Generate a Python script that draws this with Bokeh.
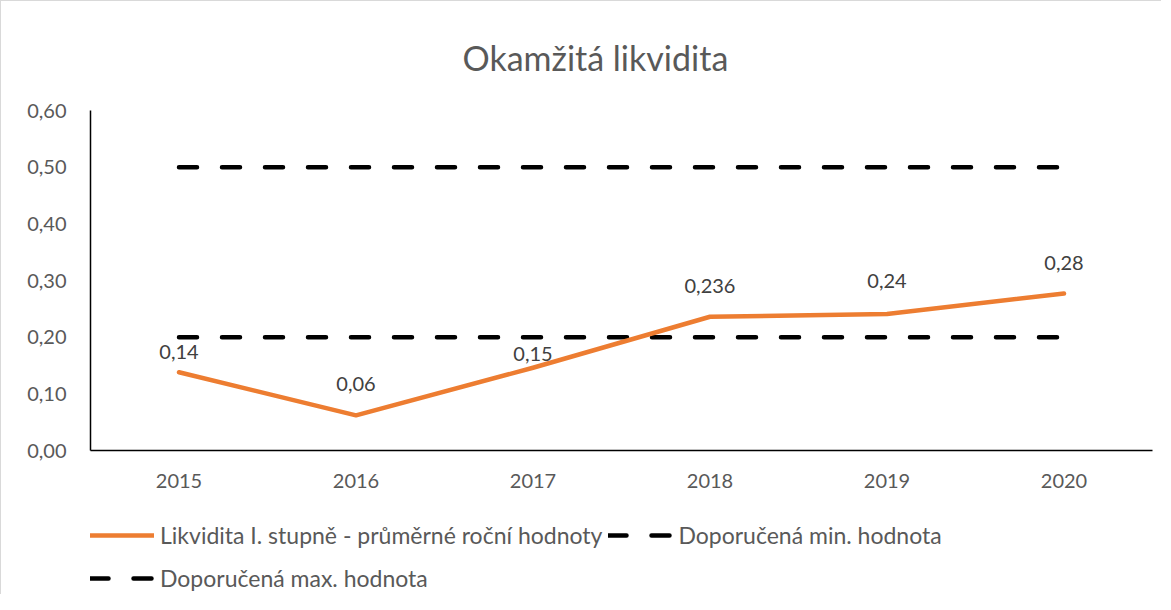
from bokeh.plotting import figure
from bokeh.layouts import column
from bokeh.models import (ColumnDataSource, FactorRange, Range1d, Legend, LegendItem,
                          CustomJSTickFormatter, FixedTicker, LabelSet)
from bokeh.embed import file_html
from bokeh.resources import INLINE
from bokeh.core.properties import value

# ---- data ----
years = ["2015", "2016", "2017", "2018", "2019", "2020"]
liquidity = [0.138, 0.062, 0.146, 0.236, 0.241, 0.277]
liquidity_labels = ["0,14", "0,06", "0,15", "0,236", "0,24", "0,28"]
rec_min = [0.20, 0.20, 0.20, 0.20, 0.20, 0.20]
rec_max = [0.50, 0.50, 0.50, 0.50, 0.50, 0.50]
y_ticks = [0.0, 0.1, 0.2, 0.3, 0.4, 0.5, 0.6]

title_text = "Okamžitá likvidita"
name_liq = "Likvidita I. stupně - průměrné roční hodnoty"
name_min = "Doporučená min. hodnota"
name_max = "Doporučená max. hodnota"

FONT = "Lato"
GREY = "#595959"
FS = "20px"
ORANGE = "#ED7D31"

p = figure(
    x_range=FactorRange(*years, range_padding=0),
    y_range=Range1d(0, 0.6),
    width=1161, height=498,
    output_backend="svg", toolbar_location=None,
    min_border_left=89, min_border_right=10, min_border_top=109, min_border_bottom=49,
)
p.styles = {"border-left": "1px solid #d9d9d9", "border-top": "1px solid #d9d9d9"}

# title
p.title.text = title_text
p.title.text_font = FONT
p.title.text_font_style = "normal"
p.title.text_font_size = "34px"
p.title.text_color = GREY
p.title.align = "left"
p.title.offset = 372
p.title.standoff = 66

p.outline_line_color = None
p.xgrid.grid_line_color = None
p.ygrid.grid_line_color = None

# axes
for ax in (p.xaxis[0], p.yaxis[0]):
    ax.axis_line_color = "#000000"
    ax.axis_line_width = 1.5
    ax.major_tick_line_color = None
    ax.minor_tick_line_color = None
    ax.major_label_text_font = FONT
    ax.major_label_text_font_size = FS
    ax.major_label_text_color = GREY
p.xaxis.major_label_standoff = 17
p.yaxis.major_label_standoff = 18
p.yaxis.ticker = FixedTicker(ticks=y_ticks)
p.yaxis.formatter = CustomJSTickFormatter(code="return tick.toFixed(2).replace('.', ',');")

src = ColumnDataSource(dict(year=years, liq=liquidity, lab=liquidity_labels,
                            mn=rec_min, mx=rec_max))

line_max = dict(line_color="#000000", line_width=4.5, line_dash="18 25", line_cap="round")
line_liq = dict(line_color=ORANGE, line_width=4.5, line_cap="round", line_join="round")

p.line("year", "mx", source=src, **line_max)
p.line("year", "mn", source=src, **line_max)
p.line("year", "liq", source=src, **line_liq)

# data labels (offsets chosen to match the reference placement)
label_dy = [20, 31, 14, 31, 33, 31]
lsrc = ColumnDataSource(dict(year=years, liq=liquidity, lab=liquidity_labels, dy=label_dy))
labels = LabelSet(x="year", y="liq", text="lab", source=lsrc, y_offset="dy",
                  text_align="center", text_baseline="middle",
                  text_font=value(FONT), text_font_size=FS, text_color="#404040")
p.add_layout(labels)

# ---- legend strip below the chart ----
pl = figure(width=1161, height=96, x_range=Range1d(0, 1), y_range=Range1d(0, 1),
            x_axis_type=None, y_axis_type=None,
            output_backend="svg", toolbar_location=None,
            min_border_left=0, min_border_right=0, min_border_top=0, min_border_bottom=0)
pl.styles = {"border-left": "1px solid #d9d9d9"}
pl.outline_line_color = None
pl.xgrid.grid_line_color = None
pl.ygrid.grid_line_color = None

# off-screen dummy renderers that only feed the legend swatches
dummy = ColumnDataSource(dict(x=[5, 6], y=[5, 5]))
d_liq = pl.line("x", "y", source=dummy, **line_liq)
d_min = pl.line("x", "y", source=dummy, **line_max)
d_max = pl.line("x", "y", source=dummy, **line_max)

legend = Legend(
    items=[LegendItem(label=name_liq, renderers=[d_liq]),
           LegendItem(label=name_min, renderers=[d_min]),
           LegendItem(label=name_max, renderers=[d_max])],
    location=(0, -2),
    orientation="horizontal", ncols=2,
    glyph_width=64, glyph_height=20, label_standoff=6,
    label_height=37, spacing=6, padding=0, margin=0,
    label_text_font=FONT, label_text_font_size="23px", label_text_color=GREY,
    border_line_color=None, background_fill_alpha=0,
)
pl.add_layout(legend, "center")

layout = column(p, pl, spacing=0)
open("out.html", "w").write(file_html(layout, INLINE))
